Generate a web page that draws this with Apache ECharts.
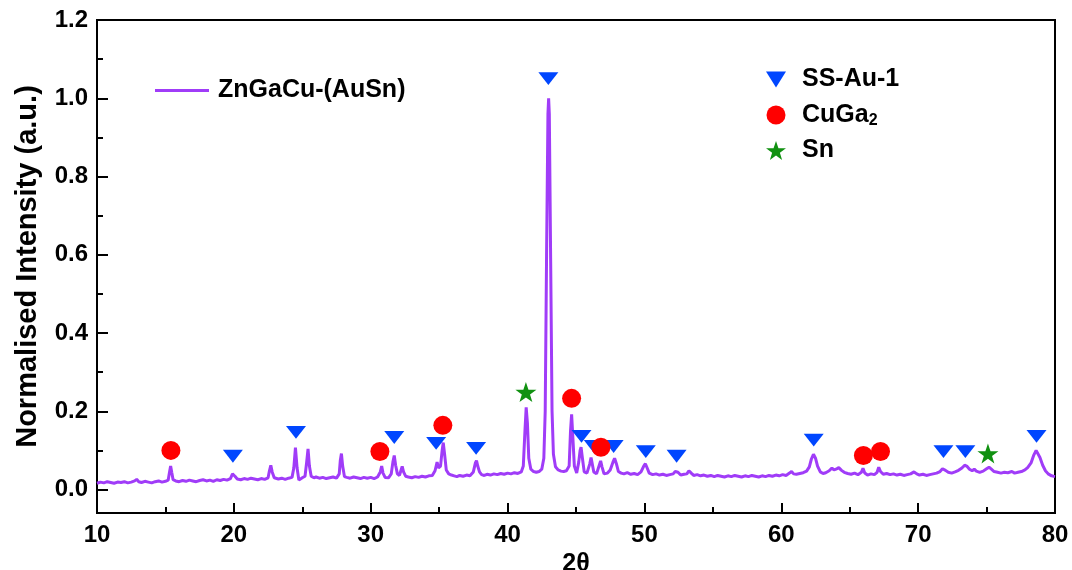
<!DOCTYPE html>
<html>
<head>
<meta charset="utf-8">
<title>XRD pattern ZnGaCu-(AuSn)</title>
<script src="https://cdn.jsdelivr.net/npm/echarts@6/dist/echarts.min.js"></script>
<style>
  html, body { margin: 0; padding: 0; background: #ffffff; }
  #chart { width: 1072px; height: 570px; }
</style>
</head>
<body>
<div id="chart"></div>
<script>
// Diffraction scan, [2θ (deg), normalised intensity]
const scan10to30 = [
  [10.0,0.016],[10.25,0.019],[10.5,0.017],[10.75,0.020],[11.0,0.018],[11.25,0.016],[11.5,0.019],[11.75,0.018],
  [12.0,0.020],[12.25,0.017],[12.5,0.019],[12.75,0.022],[12.9,0.026],[13.05,0.020],[13.25,0.018],[13.5,0.021],
  [13.75,0.019],[14.0,0.017],[14.25,0.020],[14.5,0.022],[14.75,0.019],[15.0,0.021],[15.2,0.024],[15.3,0.045],
  [15.38,0.060],[15.46,0.044],[15.56,0.025],[15.75,0.022],[16.0,0.020],[16.25,0.023],[16.5,0.021],[16.75,0.024],
  [17.0,0.022],[17.25,0.020],[17.5,0.023],[17.75,0.025],[18.0,0.022],[18.25,0.024],[18.5,0.021],[18.75,0.025],
  [19.0,0.023],[19.25,0.026],[19.5,0.024],[19.75,0.028],[19.9,0.040],[19.98,0.044],[20.08,0.034],[20.25,0.027],
  [20.5,0.025],[20.75,0.028],[21.0,0.026],[21.25,0.029],[21.5,0.027],[21.75,0.025],[22.0,0.028],[22.25,0.026],
  [22.5,0.030],[22.6,0.048],[22.7,0.062],[22.8,0.045],[22.95,0.030],[23.25,0.027],[23.5,0.029],[23.75,0.026],
  [24.0,0.029],[24.25,0.031],[24.38,0.055],[24.5,0.107],[24.62,0.055],[24.75,0.024],[25.0,0.030],[25.2,0.034],
  [25.32,0.070],[25.42,0.104],[25.52,0.060],[25.65,0.034],[25.85,0.030],[26.0,0.032],[26.25,0.029],[26.5,0.031],
  [26.75,0.028],[27.0,0.030],[27.25,0.032],[27.5,0.029],[27.7,0.040],[27.78,0.075],[27.86,0.092],[27.95,0.060],
  [28.08,0.033],[28.25,0.031],[28.5,0.029],[28.75,0.032],[29.0,0.030],[29.25,0.028],[29.5,0.031],[29.75,0.029]
];
const scan30to50 = [
  [30.0,0.031],[30.25,0.028],[30.5,0.032],[30.7,0.045],[30.8,0.060],[30.9,0.042],[31.05,0.031],[31.3,0.030],
  [31.5,0.040],[31.62,0.070],[31.72,0.087],[31.82,0.062],[31.95,0.040],[32.1,0.036],[32.22,0.050],[32.3,0.059],
  [32.4,0.045],[32.55,0.034],[32.75,0.032],[33.0,0.030],[33.25,0.033],[33.5,0.031],[33.75,0.034],[34.0,0.032],
  [34.25,0.035],[34.5,0.036],[34.7,0.048],[34.85,0.070],[34.95,0.055],[35.1,0.060],[35.22,0.100],[35.3,0.120],
  [35.4,0.090],[35.52,0.050],[35.7,0.040],[35.9,0.037],[36.1,0.035],[36.3,0.033],[36.5,0.036],[36.75,0.034],
  [37.0,0.037],[37.25,0.035],[37.5,0.045],[37.65,0.068],[37.73,0.074],[37.82,0.060],[37.95,0.045],[38.1,0.038],
  [38.3,0.036],[38.5,0.039],[38.75,0.037],[39.0,0.040],[39.25,0.038],[39.5,0.041],[39.75,0.039],[40.0,0.042],
  [40.25,0.040],[40.5,0.043],[40.75,0.041],[41.0,0.045],[41.15,0.060],[41.27,0.150],[41.36,0.210],[41.45,0.170],
  [41.55,0.080],[41.7,0.052],[41.9,0.046],[42.1,0.044],[42.3,0.046],[42.5,0.052],[42.65,0.080],[42.75,0.200],
  [42.85,0.600],[42.95,0.960],[43.0,1.000],[43.05,0.960],[43.15,0.580],[43.25,0.200],[43.35,0.090],[43.5,0.058],
  [43.7,0.050],[43.9,0.047],[44.1,0.046],[44.3,0.048],[44.5,0.060],[44.6,0.150],[44.68,0.192],[44.76,0.140],
  [44.88,0.060],[45.05,0.042],[45.2,0.070],[45.3,0.100],[45.37,0.108],[45.45,0.085],[45.6,0.045],[45.8,0.042],
  [46.0,0.065],[46.1,0.082],[46.18,0.080],[46.3,0.045],[46.5,0.040],[46.7,0.062],[46.8,0.073],[46.9,0.058],
  [47.05,0.040],[47.3,0.042],[47.5,0.050],[47.7,0.070],[47.82,0.080],[47.95,0.066],[48.1,0.046],[48.3,0.042],
  [48.5,0.040],[48.75,0.043],[49.0,0.039],[49.25,0.041],[49.5,0.038],[49.75,0.045],[49.95,0.060],[50.07,0.066]
];
const scan50to80 = [
  [50.2,0.055],[50.35,0.042],[50.6,0.038],[50.85,0.040],[51.1,0.037],[51.35,0.039],[51.6,0.036],[51.85,0.038],
  [52.1,0.040],[52.25,0.046],[52.35,0.050],[52.45,0.044],[52.65,0.037],[52.9,0.039],[53.1,0.040],[53.25,0.048],
  [53.32,0.051],[53.42,0.042],[53.6,0.036],[53.85,0.038],[54.1,0.035],[54.35,0.037],[54.6,0.034],[54.85,0.036],
  [55.1,0.033],[55.35,0.036],[55.6,0.034],[55.85,0.032],[56.1,0.035],[56.35,0.033],[56.6,0.036],[56.85,0.034],
  [57.1,0.032],[57.35,0.035],[57.6,0.033],[57.85,0.036],[58.1,0.034],[58.35,0.032],[58.6,0.035],[58.85,0.033],
  [59.1,0.036],[59.35,0.034],[59.6,0.037],[59.85,0.035],[60.1,0.038],[60.35,0.036],[60.6,0.042],[60.75,0.046],
  [60.9,0.040],[61.1,0.039],[61.35,0.041],[61.6,0.043],[61.85,0.047],[62.05,0.058],[62.2,0.078],[62.35,0.090],
  [62.5,0.080],[62.65,0.060],[62.85,0.045],[63.05,0.041],[63.25,0.043],[63.5,0.048],[63.7,0.055],[63.85,0.050],
  [64.0,0.052],[64.2,0.056],[64.4,0.049],[64.6,0.044],[64.85,0.041],[65.1,0.039],[65.35,0.042],[65.6,0.038],
  [65.85,0.044],[65.97,0.054],[66.1,0.042],[66.3,0.037],[66.55,0.040],[66.8,0.038],[67.0,0.044],[67.12,0.057],
  [67.25,0.046],[67.45,0.039],[67.7,0.041],[67.95,0.038],[68.2,0.040],[68.45,0.037],[68.7,0.039],[68.95,0.036],
  [69.2,0.038],[69.45,0.040],[69.7,0.045],[69.9,0.040],[70.1,0.037],[70.35,0.039],[70.6,0.036],[70.85,0.038],
  [71.1,0.040],[71.35,0.042],[71.6,0.046],[71.78,0.053],[71.88,0.056],[72.0,0.049],[72.2,0.044],[72.45,0.042],
  [72.7,0.045],[72.95,0.049],[73.2,0.055],[73.4,0.062],[73.55,0.060],[73.75,0.052],[73.95,0.048],[74.1,0.052],
  [74.25,0.047],[74.5,0.044],[74.75,0.047],[75.0,0.053],[75.18,0.057],[75.35,0.052],[75.55,0.046],[75.8,0.044],
  [76.05,0.042],[76.3,0.044],[76.55,0.043],[76.85,0.046],[77.05,0.042],[77.3,0.044],[77.55,0.046],[77.8,0.050],
  [78.0,0.056],[78.25,0.068],[78.45,0.088],[78.62,0.100],[78.75,0.096],[78.9,0.082],[79.1,0.062],[79.3,0.048],
  [79.5,0.040],[79.75,0.035],[80.0,0.033]
];

// Phase markers placed above the indexed reflections, [2θ, height]
const ssAu1Peaks = [
  [19.93,0.085],[24.54,0.146],[31.72,0.133],[34.78,0.118],[37.7,0.105],[42.98,1.05],
  [45.4,0.136],[46.3,0.110],[47.75,0.110],[50.1,0.097],[52.35,0.085],[62.37,0.126],
  [71.85,0.097],[73.45,0.097],[78.65,0.136]
];
const cuGa2Peaks = [
  [15.4,0.100],[30.67,0.097],[35.27,0.164],[44.68,0.233],[46.82,0.108],[66.0,0.087],[67.25,0.097]
];
const snPeaks = [
  [41.34,0.249],[75.1,0.092]
];

// Axis ticks
const yMajorTicks = [0, 0.2, 0.4, 0.6, 0.8, 1.0, 1.2];
const yMinorTicks = [0.1, 0.3, 0.5, 0.7, 0.9, 1.1];

const FONT = '"Liberation Sans", Arial, Helvetica, sans-serif';
const LINE_COLOR = '#a03cf8';
const TRI_DOWN = 'path://M0,0 L20,0 L10,16 Z';
const STAR = 'path://M50,0 L61.8,35.1 L98.1,35.1 L68.8,56.8 L79.4,91.6 L50,70 L20.6,91.6 L31.2,56.8 L1.9,35.1 L38.2,35.1 Z';

const chart = echarts.init(document.getElementById('chart'), null, { renderer: 'canvas' });

const pattern = scan10to30.concat(scan30to50, scan50to80);

const legendRich = {
  t: { fontSize: 25, fontWeight: 'bold', fontFamily: FONT, color: '#000', padding: [0, 0, 0, 11], lineHeight: 24 },
  s: { fontSize: 16, fontWeight: 'bold', fontFamily: FONT, color: '#000', padding: [12, 0, 0, 0], lineHeight: 16 }
};

chart.setOption({
  backgroundColor: '#ffffff',
  animation: false,
  grid: {
    left: 97, right: 17, top: 20, bottom: 57,
    outerBoundsMode: 'none',
    containLabel: false,
    show: true, borderColor: '#000', borderWidth: 2, backgroundColor: 'transparent'
  },
  legend: [
    {
      data: [{ name: 'ZnGaCu-(AuSn)', icon: 'rect' }],
      left: 155, top: 78,
      padding: 0,
      itemWidth: 54, itemHeight: 3,
      textStyle: { fontSize: 25, fontWeight: 'bold', fontFamily: FONT, color: '#000', padding: [0, 0, 0, 4] },
      selectedMode: false
    },
    {
      data: ['SS-Au-1', 'CuGa2', 'Sn'],
      orient: 'vertical',
      left: 766, top: 67,
      padding: 0,
      itemWidth: 20, itemHeight: 19, itemGap: 9,
      formatter: function (name) {
        return name === 'CuGa2' ? '{t|CuGa}{s|2}' : '{t|' + name + '}';
      },
      textStyle: { fontSize: 25, fontWeight: 'bold', fontFamily: FONT, color: '#000', rich: legendRich },
      selectedMode: false
    }
  ],
  xAxis: {
    type: 'value',
    min: 10, max: 80, interval: 10,
    name: '2θ',
    nameLocation: 'middle',
    nameGap: 30,
    nameTextStyle: { fontSize: 25, fontWeight: 'bold', fontFamily: FONT, color: '#000' },
    axisLine: { show: true, onZero: false, lineStyle: { color: '#000', width: 2 } },
    axisTick: { show: true, inside: true, length: 10, lineStyle: { color: '#000', width: 2 } },
    minorTick: { show: true, splitNumber: 2, length: 6, lineStyle: { color: '#000', width: 2 } },
    axisLabel: { fontSize: 24, fontWeight: 'bold', fontFamily: FONT, color: '#000', margin: 10 },
    splitLine: { show: false }
  },
  yAxis: [
    {
      type: 'value',
      min: -0.06, max: 1.2,
      name: 'Normalised Intensity (a.u.)',
      nameLocation: 'middle',
      nameGap: 55,
      nameTextStyle: { fontSize: 29, fontWeight: 'bold', fontFamily: FONT, color: '#000' },
      axisLine: { show: true, onZero: false, lineStyle: { color: '#000', width: 2 } },
      axisTick: { show: true, inside: true, length: 11, customValues: yMajorTicks, lineStyle: { color: '#000', width: 2 } },
      axisLabel: {
        customValues: yMajorTicks,
        fontSize: 24, fontWeight: 'bold', fontFamily: FONT, color: '#000', margin: 9,
        formatter: function (v) { return v.toFixed(1); }
      },
      splitLine: { show: false }
    },
    {
      type: 'value',
      min: -0.06, max: 1.2,
      position: 'left',
      axisLine: { show: false },
      axisTick: { show: true, inside: true, length: 6, customValues: yMinorTicks, lineStyle: { color: '#000', width: 2 } },
      axisLabel: { show: false },
      splitLine: { show: false }
    }
  ],
  series: [
    {
      name: 'ZnGaCu-(AuSn)',
      type: 'line',
      data: pattern,
      showSymbol: false,
      symbol: 'none',
      lineStyle: { color: LINE_COLOR, width: 3 },
      itemStyle: { color: LINE_COLOR },
      z: 2
    },
    {
      name: 'SS-Au-1',
      type: 'scatter',
      data: ssAu1Peaks,
      symbol: TRI_DOWN,
      symbolKeepAspect: true,
      symbolSize: [20, 16],
      itemStyle: { color: '#0046ff', opacity: 1 },
      z: 4
    },
    {
      name: 'CuGa2',
      type: 'scatter',
      data: cuGa2Peaks,
      symbol: 'circle',
      symbolSize: 19,
      itemStyle: { color: '#ff0000', opacity: 1 },
      z: 5
    },
    {
      name: 'Sn',
      type: 'scatter',
      data: snPeaks,
      symbol: STAR,
      symbolKeepAspect: true,
      symbolSize: 21,
      itemStyle: { color: '#119111', opacity: 1 },
      z: 5
    }
  ]
});
</script>
</body>
</html>
